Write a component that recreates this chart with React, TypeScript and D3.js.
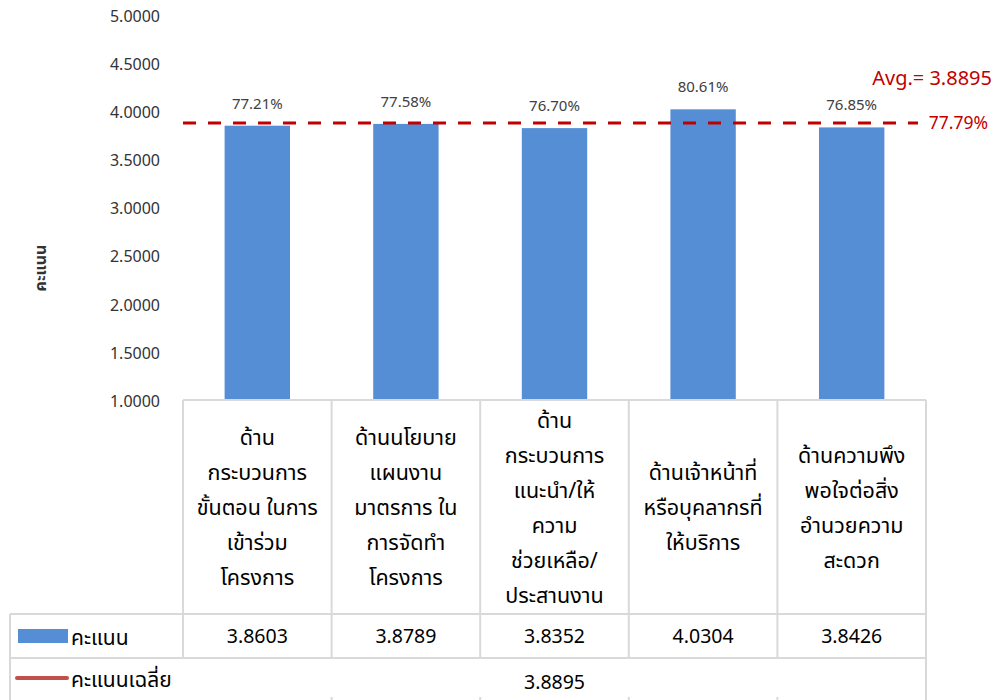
import React from "react";
import * as d3 from "d3";

const categories: string[][] = [
  ["ด้าน", "กระบวนการ", "ขั้นตอน ในการ", "เข้าร่วม", "โครงการ"],
  ["ด้านนโยบาย", "แผนงาน", "มาตรการ ใน", "การจัดทำ", "โครงการ"],
  ["ด้าน", "กระบวนการ", "แนะนำ/ให้", "ความ", "ช่วยเหลือ/", "ประสานงาน"],
  ["ด้านเจ้าหน้าที่", "หรือบุคลากรที่", "ให้บริการ"],
  ["ด้านความพึง", "พอใจต่อสิ่ง", "อำนวยความ", "สะดวก"],
];
const scores: number[] = [3.8603, 3.8789, 3.8352, 4.0304, 3.8426];
const average = 3.8895;
const maxScore = 5;
const yTicks: number[] = [1, 1.5, 2, 2.5, 3, 3.5, 4, 4.5, 5];
const seriesName = "คะแนน";
const avgName = "คะแนนเฉลี่ย";
const axisTitle = "คะแนน";

const W = 995;
const H = 700;
const plotLeft = 183;
const plotRight = 926;
const plotTop = 16;
const plotBottom = 401;
const tableTop = 400;
const headerBottom = 614;
const dataBottom = 658;
const legendLeft = 10;

const FONT = "Tahoma, 'Noto Sans Thai', 'Leelawadee UI', 'DejaVu Sans', sans-serif";
const gridColor = "#D9D9D9";
const barColor = "#558ED5";
const avgColor = "#C00000";

export default function App() {
  const x = d3
    .scaleBand<number>()
    .domain(d3.range(scores.length))
    .range([plotLeft, plotRight])
    .paddingInner(0)
    .paddingOuter(0);
  const y = d3.scaleLinear().domain([1, 5]).range([plotBottom, plotTop]);
  const bw = x.bandwidth();
  const barW = bw * 0.44;
  const pct = (v: number) => ((v / maxScore) * 100).toFixed(2) + "%";
  const lineH = 35;
  const headerMid = (tableTop + headerBottom) / 2;

  return (
    <svg
      width={W}
      height={H}
      style={{ position: "absolute", left: 0, top: 0, background: "#fff" }}
      fontFamily={FONT}
    >
      <rect x={0} y={0} width={W} height={H} fill="#fff" />
      {/* y tick labels */}
      {yTicks.map((t) => (
        <text
          key={t}
          x={160}
          y={y(t)}
          dy="0.36em"
          textAnchor="end"
          fontSize={16}
          fill="#333"
        >
          {d3.format(".4f")(t)}
        </text>
      ))}
      <text
        transform={`translate(40, 268) rotate(-90)`}
        textAnchor="middle"
        dy="0.35em"
        fontSize={16}
        fontWeight="bold"
        fill="#333"
      >
        {axisTitle}
      </text>

      {/* bars */}
      {scores.map((v, i) => {
        const cx = (x(i) as number) + bw / 2;
        return (
          <g key={i}>
            <rect
              x={cx - barW / 2}
              y={y(v)}
              width={barW}
              height={tableTop - y(v)}
              fill={barColor}
            />
            <text
              x={cx}
              y={y(v) - 17}
              textAnchor="middle"
              fontSize={15}
              fill="#404040"
            >
              {pct(v)}
            </text>
          </g>
        );
      })}

      {/* average line */}
      <line
        x1={plotLeft}
        x2={918}
        y1={y(average)}
        y2={y(average)}
        stroke={avgColor}
        strokeWidth={3}
        strokeDasharray="13 12"
      />
      <text x={992} y={85} textAnchor="end" fontSize={20} fill={avgColor}>
        {`Avg.= ${average.toFixed(4)}`}
      </text>
      <text x={988} y={y(average) + 6} textAnchor="end" fontSize={17.5} fill={avgColor}>
        {pct(average)}
      </text>

      {/* data table */}
      <g stroke={gridColor} strokeWidth={2} fill="none">
        <line x1={plotLeft} x2={plotRight} y1={tableTop} y2={tableTop} />
        <line x1={legendLeft} x2={plotRight} y1={headerBottom} y2={headerBottom} />
        <line x1={legendLeft} x2={plotRight} y1={dataBottom} y2={dataBottom} />
        <line x1={legendLeft} x2={legendLeft} y1={headerBottom} y2={H} />
        <line x1={plotRight} x2={plotRight} y1={tableTop} y2={H} />
        {d3.range(scores.length).map((i) => (
          <line
            key={i}
            x1={x(i) as number}
            x2={x(i) as number}
            y1={tableTop}
            y2={dataBottom}
          />
        ))}
        {d3.range(1, scores.length).map((i) => (
          <line
            key={"t" + i}
            x1={x(i) as number}
            x2={x(i) as number}
            y1={H - 3}
            y2={H}
          />
        ))}
      </g>

      {categories.map((lines, i) => {
        const cx = (x(i) as number) + bw / 2;
        const start = headerMid - ((lines.length - 1) * lineH) / 2;
        return (
          <text key={i} textAnchor="middle" fontSize={21.5} fill="#000">
            {lines.map((l, j) => (
              <tspan key={j} x={cx} y={start + j * lineH + 8}>
                {l}
              </tspan>
            ))}
          </text>
        );
      })}

      {scores.map((v, i) => (
        <text
          key={i}
          x={(x(i) as number) + bw / 2}
          y={(headerBottom + dataBottom) / 2 + 7}
          textAnchor="middle"
          fontSize={19.5}
          fill="#000"
        >
          {v.toFixed(4)}
        </text>
      ))}
      <text
        x={(plotLeft + plotRight) / 2}
        y={689}
        textAnchor="middle"
        fontSize={19.5}
        fill="#000"
      >
        {average.toFixed(4)}
      </text>

      {/* legend keys */}
      <rect x={18} y={629} width={50} height={14} fill={barColor} />
      <text x={71} y={645} fontSize={21} fill="#000">
        {seriesName}
      </text>
      <line
        x1={17}
        x2={67}
        y1={678}
        y2={678}
        stroke="#C0504D"
        strokeWidth={4}
        strokeLinecap="round"
      />
      <text x={71} y={687} fontSize={21} fill="#000">
        {avgName}
      </text>
    </svg>
  );
}
